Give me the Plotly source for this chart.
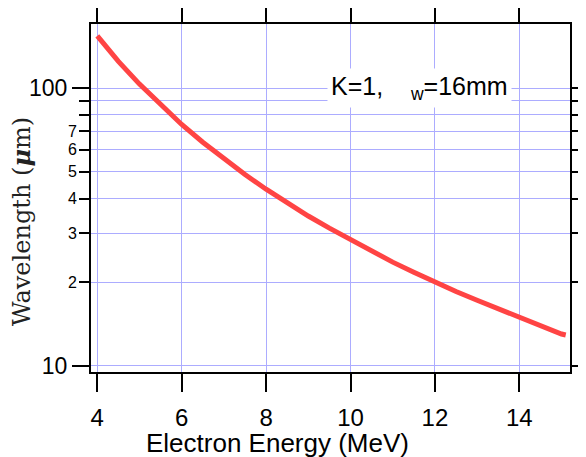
import plotly.graph_objects as go

energy_mev = [4.0, 4.5, 5.0, 5.5, 6.0, 6.5, 7.0, 7.5, 8.0, 8.5, 9.0, 9.5, 10.0,
              10.5, 11.0, 11.5, 12.0, 12.5, 13.0, 13.5, 14.0, 14.5, 15.0, 15.1]
wavelength_um = [154, 124.7, 103.3, 86.8, 73.9, 63.8, 55.5, 48.8, 43.2, 38.6, 34.6, 31.3, 28.4,
                 25.8, 23.6, 21.7, 20.0, 18.5, 17.2, 16.0, 14.9, 13.9, 13.0, 12.9]

x_tickvals = [4, 6, 8, 10, 12, 14]
y_major_vals = [10, 100]
y_major_text = ["10", "100"]
y_minor_vals = [20, 30, 40, 50, 60, 70, 80, 90]
y_minor_label_text = ["2", "3", "4", "5", "6", "7", "", ""]

GRID = "rgb(172,172,255)"
yrange = [0.9773, 2.2305]

fig = go.Figure()
fig.add_trace(go.Scatter(x=energy_mev, y=wavelength_um, mode="lines",
                         line=dict(color="#ff4444", width=5), showlegend=False))
# invisible trace for second y axis (minor labels + minor grid)
fig.add_trace(go.Scatter(x=[energy_mev[0]], y=[wavelength_um[0]], yaxis="y2",
                         mode="markers", marker=dict(opacity=0), showlegend=False,
                         hoverinfo="skip"))

# page body has an 8px default margin, so the figure is drawn 8px smaller
fig.update_layout(
    width=578, height=449,
    margin=dict(l=83, r=16, t=16, b=85),
    paper_bgcolor="white", plot_bgcolor="white",
    font=dict(family="Liberation Sans, Arial, sans-serif", color="black"),
    xaxis=dict(range=[3.851, 15.201], tickvals=x_tickvals, automargin=False,
               ticks="outside", ticklen=18, tickwidth=2, tickcolor="black",
               showline=True, linewidth=2, linecolor="black", mirror="ticks",
               showgrid=True, gridcolor=GRID, gridwidth=1, zeroline=False,
               tickfont=dict(size=24), ticklabelstandoff=5),
    yaxis=dict(type="log", range=yrange, tickvals=y_major_vals, ticktext=y_major_text,
               automargin=False,
               ticks="outside", ticklen=17, tickwidth=2, tickcolor="black",
               showline=True, linewidth=2, linecolor="black", mirror="ticks",
               showgrid=True, gridcolor=GRID, gridwidth=1, zeroline=False,
               tickfont=dict(size=23),
               minor=dict(tickvals=y_minor_vals, ticks="outside", ticklen=10,
                          tickwidth=2, tickcolor="black", showgrid=False)),
    yaxis2=dict(type="log", range=yrange, overlaying="y", side="left", anchor="x",
                automargin=False,
                tickvals=y_minor_vals, ticktext=y_minor_label_text,
                ticks="outside", ticklen=10, tickcolor="rgba(0,0,0,0)",
                showline=False, showgrid=True, gridcolor=GRID, gridwidth=1,
                zeroline=False, tickfont=dict(size=16)),
    annotations=[
        dict(text="Wavelength (<i><b>μ</b></i>m)", textangle=-90,
             xref="paper", yref="paper", x=-0.146, y=0.431,
             xanchor="center", yanchor="middle",
             showarrow=False, font=dict(family="DejaVu Serif", size=24, color="#222")),
        dict(text="Electron Energy (MeV)",
             xref="paper", yref="paper", x=0.389, y=-0.203,
             xanchor="center", yanchor="middle",
             showarrow=False, font=dict(size=26)),
        dict(text="K=1,\u00a0\u00a0\u00a0\u00a0<sub>w</sub>=16mm",
             xref="paper", yref="paper", x=0.685, y=0.817,
             xanchor="center", yanchor="middle",
             showarrow=False, bgcolor="white", borderpad=3,
             font=dict(size=25)),
    ],
)

fig.write_html("out.html")
